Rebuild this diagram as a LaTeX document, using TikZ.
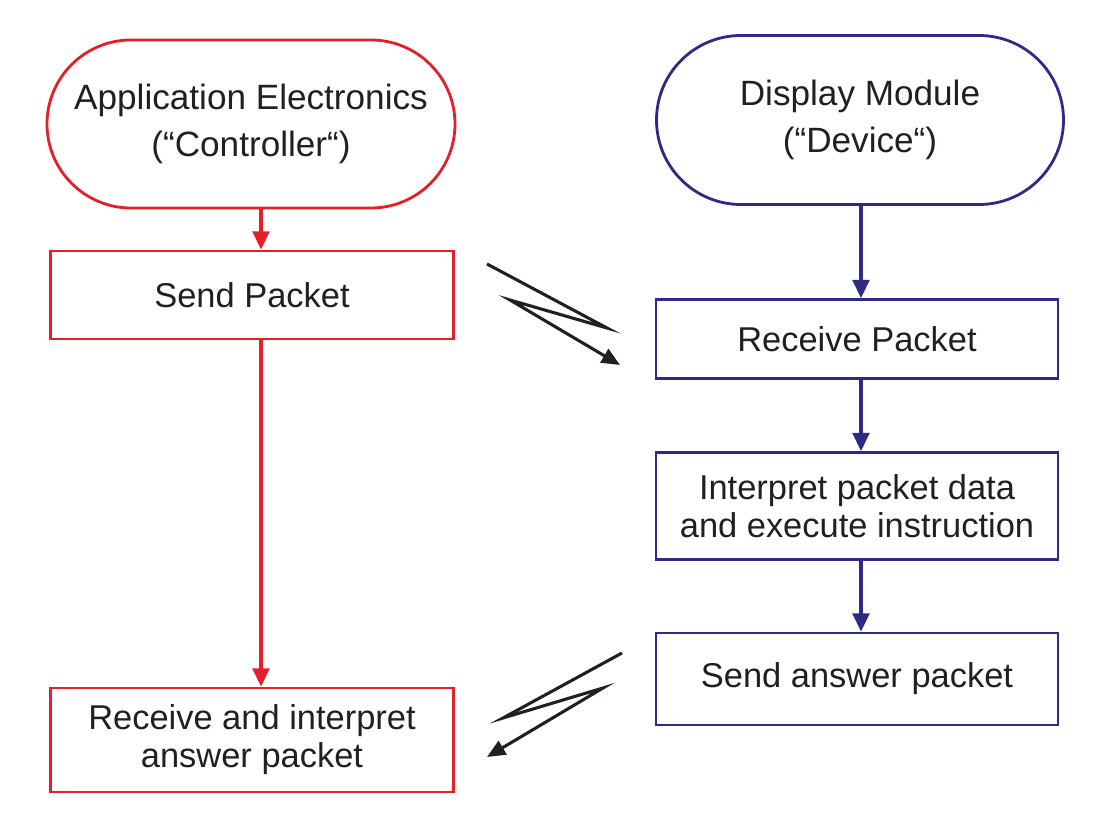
\documentclass[tikz,border=0pt]{standalone}
\usepackage{fontspec}
\setmainfont{Liberation Sans}
\usetikzlibrary{arrows.meta,shapes.misc}
\definecolor{cred}{HTML}{E3202A}
\definecolor{cblue}{HTML}{2E2A85}
\definecolor{ctxt}{HTML}{231F20}
\begin{document}
\begin{tikzpicture}[x=0.025cm,y=-0.025cm,
  txt/.style={font=\fontsize{24.5}{27}\selectfont,text=ctxt,align=center},
  stad/.style={txt,font=\fontsize{25}{33}\selectfont,draw,line width=2pt,rounded rectangle,inner sep=0pt},
  pbox/.style={txt,draw,line width=2pt,inner sep=0pt},
  arr/.style={line width=2.2pt,-{Triangle[length=13pt,width=12pt]}},
  bolt/.style={line width=2.2pt,color=ctxt,-{Triangle[length=13pt,width=11pt]}}]
\useasboundingbox (0,0) rectangle (1105,833);
\node[stad,draw=cred,minimum width=408*0.025cm,minimum height=168*0.025cm] (app) at (251,124) {Application Electronics\\(“Controller“)};
\node[stad,draw=cblue,minimum width=407*0.025cm,minimum height=169*0.025cm] (dm) at (860,120) {Display Module\\(“Device“)};
\node[pbox,draw=cred,minimum width=403*0.025cm,minimum height=88*0.025cm] (sp) at (252,295) {Send Packet};
\node[pbox,draw=cred,minimum width=403*0.025cm,minimum height=104*0.025cm] (ri) at (252,740) {Receive and interpret\\answer packet};
\node[pbox,draw=cblue,minimum width=402*0.025cm,minimum height=79*0.025cm] (rp) at (857,339) {Receive Packet};
\node[pbox,draw=cblue,minimum width=402*0.025cm,minimum height=107*0.025cm] (ip) at (857,506) {Interpret packet data\\and execute instruction};
\node[pbox,draw=cblue,minimum width=402*0.025cm,minimum height=92*0.025cm] (sa) at (857,679) {Send answer packet};
\draw[arr,cred] (app.south -| 261,0) -- (sp.north -| 261,0);
\draw[arr,cred] (sp.south -| 261,0) -- (ri.north -| 261,0);
\draw[arr,cblue] (dm.south -| 861,0) -- (rp.north -| 861,0);
\draw[arr,cblue] (rp.south -| 861,0) -- (ip.north -| 861,0);
\draw[arr,cblue] (ip.south -| 861,0) -- (sa.north -| 861,0);
\coordinate (b1a) at (487,264); \coordinate (b1b) at (607,328);
\coordinate (b1c) at (510,300); \coordinate (b1d) at (620,365);
\draw[bolt] (b1a) -- (b1b) -- (b1c) -- (b1d);
\coordinate (b2a) at (622,653); \coordinate (b2b) at (503,718);
\coordinate (b2c) at (603,688); \coordinate (b2d) at (487,757);
\draw[bolt] (b2a) -- (b2b) -- (b2c) -- (b2d);
\end{tikzpicture}
\end{document}
